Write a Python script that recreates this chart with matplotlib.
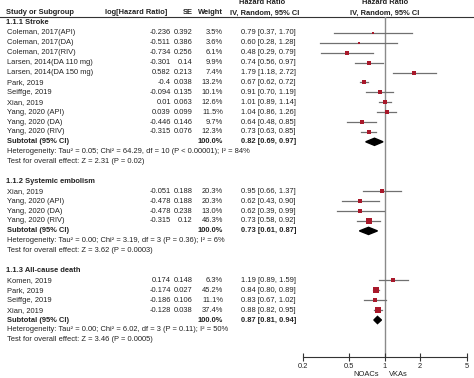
import matplotlib.pyplot as plt
from matplotlib.patches import Polygon

plt.rcParams['font.family'] = ['Liberation Sans', 'DejaVu Sans']

# ---- data ----
stroke_names = ["Coleman, 2017(API)", "Coleman, 2017(DA)", "Coleman, 2017(RIV)",
                "Larsen, 2014(DA 110 mg)", "Larsen, 2014(DA 150 mg)", "Park, 2019",
                "Seiffge, 2019", "Xian, 2019", "Yang, 2020 (API)", "Yang, 2020 (DA)",
                "Yang, 2020 (RIV)"]
stroke_loghr = [-0.236, -0.511, -0.734, -0.301, 0.582, -0.4, -0.094, 0.01, 0.039, -0.446, -0.315]
stroke_se = [0.392, 0.386, 0.256, 0.14, 0.213, 0.038, 0.135, 0.063, 0.099, 0.146, 0.076]
stroke_weight = [3.5, 3.6, 6.1, 9.9, 7.4, 13.2, 10.1, 12.6, 11.5, 9.7, 12.3]
stroke_hr = [0.79, 0.60, 0.48, 0.74, 1.79, 0.67, 0.91, 1.01, 1.04, 0.64, 0.73]
stroke_lo = [0.37, 0.28, 0.29, 0.56, 1.18, 0.62, 0.70, 0.89, 0.86, 0.48, 0.63]
stroke_hi = [1.70, 1.28, 0.79, 0.97, 2.72, 0.72, 1.19, 1.14, 1.26, 0.85, 0.85]
stroke_sub = [0.82, 0.69, 0.97]

emb_names = ["Xian, 2019", "Yang, 2020 (API)", "Yang, 2020 (DA)", "Yang, 2020 (RIV)"]
emb_loghr = [-0.051, -0.478, -0.478, -0.315]
emb_se = [0.188, 0.188, 0.238, 0.12]
emb_weight = [20.3, 20.3, 13.0, 46.3]
emb_hr = [0.95, 0.62, 0.62, 0.73]
emb_lo = [0.66, 0.43, 0.39, 0.58]
emb_hi = [1.37, 0.90, 0.99, 0.92]
emb_sub = [0.73, 0.61, 0.87]

death_names = ["Komen, 2019", "Park, 2019", "Seiffge, 2019", "Xian, 2019"]
death_loghr = [0.174, -0.174, -0.186, -0.128]
death_se = [0.148, 0.027, 0.106, 0.038]
death_weight = [6.3, 45.2, 11.1, 37.4]
death_hr = [1.19, 0.84, 0.83, 0.88]
death_lo = [0.89, 0.80, 0.67, 0.82]
death_hi = [1.59, 0.89, 1.02, 0.95]
death_sub = [0.87, 0.81, 0.94]

titles = ["1.1.1 Stroke", "1.1.2 Systemic embolism", "1.1.3 All-cause death"]
het_texts = [
    "Heterogeneity: Tau\u00b2 = 0.05; Chi\u00b2 = 64.29, df = 10 (P < 0.00001); I\u00b2 = 84%",
    "Heterogeneity: Tau\u00b2 = 0.00; Chi\u00b2 = 3.19, df = 3 (P = 0.36); I\u00b2 = 6%",
    "Heterogeneity: Tau\u00b2 = 0.00; Chi\u00b2 = 6.02, df = 3 (P = 0.11); I\u00b2 = 50%",
]
test_texts = [
    "Test for overall effect: Z = 2.31 (P = 0.02)",
    "Test for overall effect: Z = 3.62 (P = 0.0003)",
    "Test for overall effect: Z = 3.46 (P = 0.0005)",
]
xticks = [0.2, 0.5, 1, 2, 5]
xtick_labels = ["0.2", "0.5", "1", "2", "5"]

groups = [
    (stroke_names, stroke_loghr, stroke_se, stroke_weight, stroke_hr, stroke_lo, stroke_hi, stroke_sub),
    (emb_names, emb_loghr, emb_se, emb_weight, emb_hr, emb_lo, emb_hi, emb_sub),
    (death_names, death_loghr, death_se, death_weight, death_hr, death_lo, death_hi, death_sub),
]

# ---- layout (pixel coords) ----
FS = 5.4
TXT = "#222222"
SQ = "#a8182a"
CI = "#707070"
ROW0, DY = 23.0, 9.9
X_NAME, X_LOG, X_SE, X_W, X_HR = 7, 171, 192.5, 223, 296

fig = plt.figure(figsize=(4.74, 3.78), dpi=100)
ax = fig.add_axes([0, 0, 1, 1])
ax.set_xlim(0, 474)
ax.set_ylim(378, 0)
ax.axis("off")

fa = fig.add_axes([302.5 / 474, (378 - 357) / 378, (466.7 - 302.5) / 474, (357 - 16.5) / 378])
fa.patch.set_alpha(0)
fa.set_xscale("log")
fa.set_xlim(0.2, 5)
fa.set_ylim(357, 16.5)
for s in ["top", "left", "right"]:
    fa.spines[s].set_visible(False)
fa.spines["bottom"].set_color("#333333")
fa.spines["bottom"].set_linewidth(0.8)
fa.set_yticks([])
fa.set_xticks(xticks)
fa.set_xticklabels(xtick_labels)
fa.minorticks_off()
fa.tick_params(axis="x", direction="inout", length=6, width=0.8, color="#333333",
               labelsize=FS, labelcolor=TXT, pad=1.5)
fa.axvline(1, color="#8a8a8a", lw=1.0, zorder=1)

# ---- header ----
hdr = dict(fontsize=FS, color=TXT, fontweight="bold", va="center")
ax.text(262, 3, "Hazard Ratio", ha="center", **hdr)
ax.text(385, 3, "Hazard Ratio", ha="center", **hdr)
ax.text(6, 13, "Study or Subgroup", ha="left", **hdr)
ax.text(167, 13, "log[Hazard Ratio]", ha="right", **hdr)
ax.text(X_SE, 13, "SE", ha="right", **hdr)
ax.text(X_W, 13, "Weight", ha="right", **hdr)
ax.text(230, 13, "IV, Random, 95% CI", ha="left", **hdr)
ax.text(385, 13, "IV, Random, 95% CI", ha="center", **hdr)
ax.plot([0, 474], [16.8, 16.8], color="#333333", lw=0.8)

norm = dict(fontsize=FS, color=TXT, va="center")
bold = dict(fontsize=FS, color=TXT, va="center", fontweight="bold")

k = 0
for gi, (names, lhr, se, w, hr, lo, hi, sub) in enumerate(groups):
    y = ROW0 + DY * k
    ax.text(X_NAME - 1, y, titles[gi], ha="left", **bold)
    k += 1
    for i in range(len(names)):
        y = ROW0 + DY * k
        ax.text(X_NAME, y, names[i], ha="left", **norm)
        ax.text(X_LOG, y, str(lhr[i]), ha="right", **norm)
        ax.text(X_SE, y, str(se[i]), ha="right", **norm)
        ax.text(X_W, y, f"{w[i]:.1f}%", ha="right", **norm)
        ax.text(X_HR, y, f"{hr[i]:.2f} [{lo[i]:.2f}, {hi[i]:.2f}]", ha="right", **norm)
        fa.plot([lo[i], hi[i]], [y, y], color=CI, lw=0.9, zorder=2)
        fa.plot([hr[i]], [y], marker="s", color=SQ, ms=0.9 * w[i] ** 0.5 * 0.72 + 0.6,
                mew=0, zorder=3)
        k += 1
    y = ROW0 + DY * k
    ax.text(X_NAME, y, "Subtotal (95% CI)", ha="left", **bold)
    ax.text(X_W, y, "100.0%", ha="right", **bold)
    ax.text(X_HR, y, f"{sub[0]:.2f} [{sub[1]:.2f}, {sub[2]:.2f}]", ha="right", **bold)
    fa.add_patch(Polygon([(sub[1], y), (sub[0], y - 3.6), (sub[2], y), (sub[0], y + 3.6)],
                         closed=True, color="black", zorder=3))
    k += 1
    ax.text(X_NAME, ROW0 + DY * k, het_texts[gi], ha="left", **norm)
    k += 1
    ax.text(X_NAME, ROW0 + DY * k, test_texts[gi], ha="left", **norm)
    k += 2

ax.text(379, 374, "NOACs", ha="right", **norm)
ax.text(389, 374, "VKAs", ha="left", **norm)

fig.savefig("out.png", dpi=100)
